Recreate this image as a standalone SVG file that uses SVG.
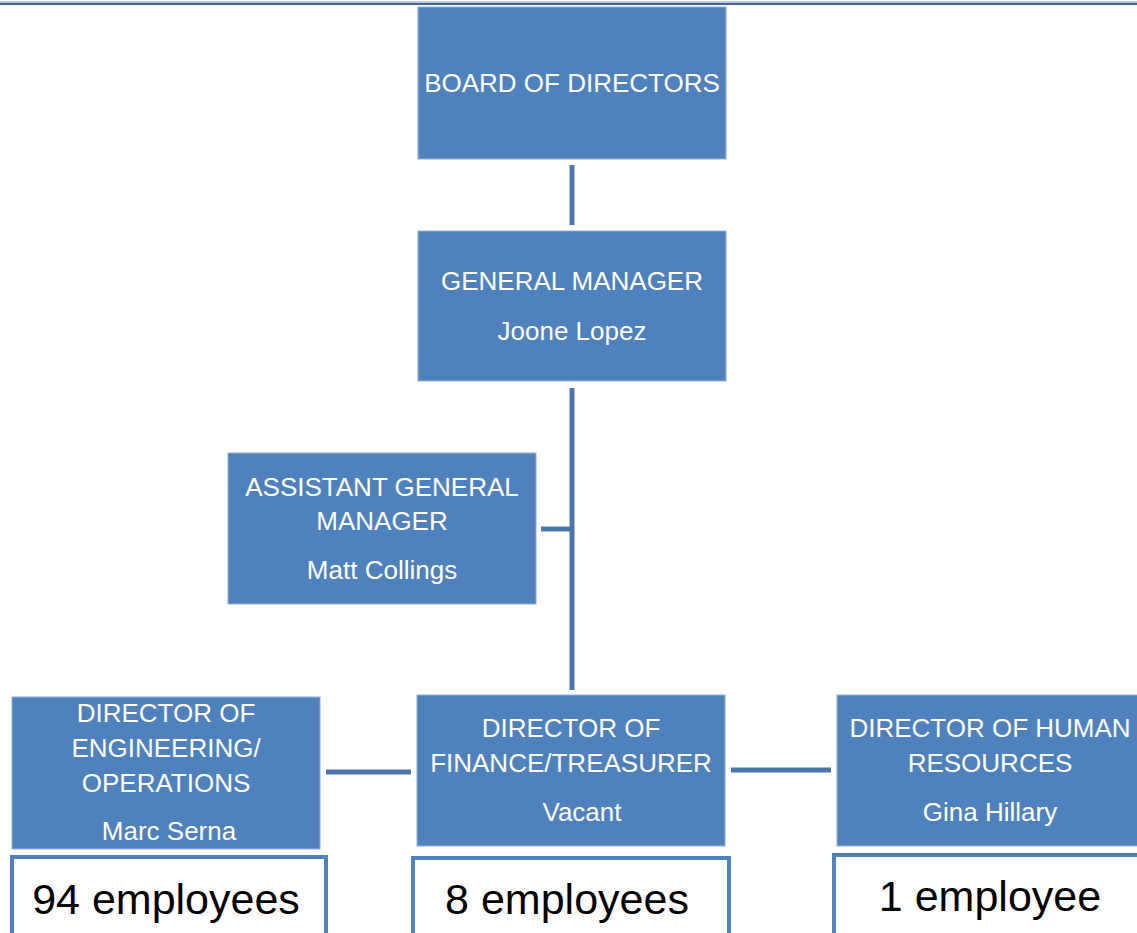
<svg xmlns="http://www.w3.org/2000/svg" width="1137" height="933" viewBox="0 0 1137 933">
  <style>
    .box { fill: #4f81bd; stroke: #8fb0da; stroke-width: 1; }
    .count { fill: #ffffff; stroke: #4f81bd; stroke-width: 4; }
    .lbl { font-family: "Liberation Sans", Arial, sans-serif; font-size: 26px; fill: #ffffff; text-anchor: middle; }
    .num { font-family: "Liberation Sans", Arial, sans-serif; font-size: 43px; fill: #000000; text-anchor: middle; }
    .wire { stroke: #4a76ad; stroke-width: 5; fill: none; }
  </style>

  <!-- page rule -->
  <line x1="0" y1="2" x2="1137" y2="2" stroke="#9fb6d6" stroke-width="1.5"/>
  <line x1="0" y1="4" x2="1137" y2="4" stroke="#3f6596" stroke-width="2"/>

  <!-- connectors -->
  <g id="connectors">
    <line class="wire" x1="572" y1="165" x2="572" y2="225"/>
    <line class="wire" x1="572" y1="388" x2="572" y2="690"/>
    <line class="wire" x1="541" y1="529" x2="572" y2="529"/>
    <line class="wire" x1="326" y1="772" x2="411" y2="772"/>
    <line class="wire" x1="731" y1="770" x2="831" y2="770"/>
  </g>

  <g id="board">
    <rect class="box" x="418" y="7" width="308" height="152"/>
    <text class="lbl" x="572" y="92">BOARD OF DIRECTORS</text>
  </g>

  <g id="general-manager">
    <rect class="box" x="418" y="231" width="308" height="150"/>
    <text class="lbl" x="572" y="290">GENERAL MANAGER</text>
    <text class="lbl" x="572" y="340">Joone Lopez</text>
  </g>

  <g id="assistant-gm">
    <rect class="box" x="228" y="453" width="308" height="151"/>
    <text class="lbl" x="382" y="496">ASSISTANT GENERAL</text>
    <text class="lbl" x="382" y="530">MANAGER</text>
    <text class="lbl" x="382" y="579">Matt Collings</text>
  </g>

  <g id="dir-engineering">
    <rect class="box" x="12" y="697" width="308" height="152"/>
    <text class="lbl" x="166" y="722">DIRECTOR OF</text>
    <text class="lbl" x="166" y="757">ENGINEERING/</text>
    <text class="lbl" x="166" y="792">OPERATIONS</text>
    <text class="lbl" x="169" y="840">Marc Serna</text>
  </g>

  <g id="dir-finance">
    <rect class="box" x="417" y="695" width="308" height="151"/>
    <text class="lbl" x="571" y="737">DIRECTOR OF</text>
    <text class="lbl" x="571" y="772">FINANCE/TREASURER</text>
    <text class="lbl" x="582" y="821">Vacant</text>
  </g>

  <g id="dir-hr">
    <rect class="box" x="837" y="695" width="310" height="151"/>
    <text class="lbl" x="990" y="737">DIRECTOR OF HUMAN</text>
    <text class="lbl" x="990" y="772">RESOURCES</text>
    <text class="lbl" x="990" y="821">Gina Hillary</text>
  </g>

  <g id="count-engineering">
    <rect class="count" x="12" y="857" width="314" height="90"/>
    <text class="num" x="166" y="914">94 employees</text>
  </g>

  <g id="count-finance">
    <rect class="count" x="413" y="858" width="316" height="90"/>
    <text class="num" x="567" y="914">8 employees</text>
  </g>

  <g id="count-hr">
    <rect class="count" x="834" y="855" width="320" height="90"/>
    <text class="num" x="990" y="911">1 employee</text>
  </g>
</svg>
